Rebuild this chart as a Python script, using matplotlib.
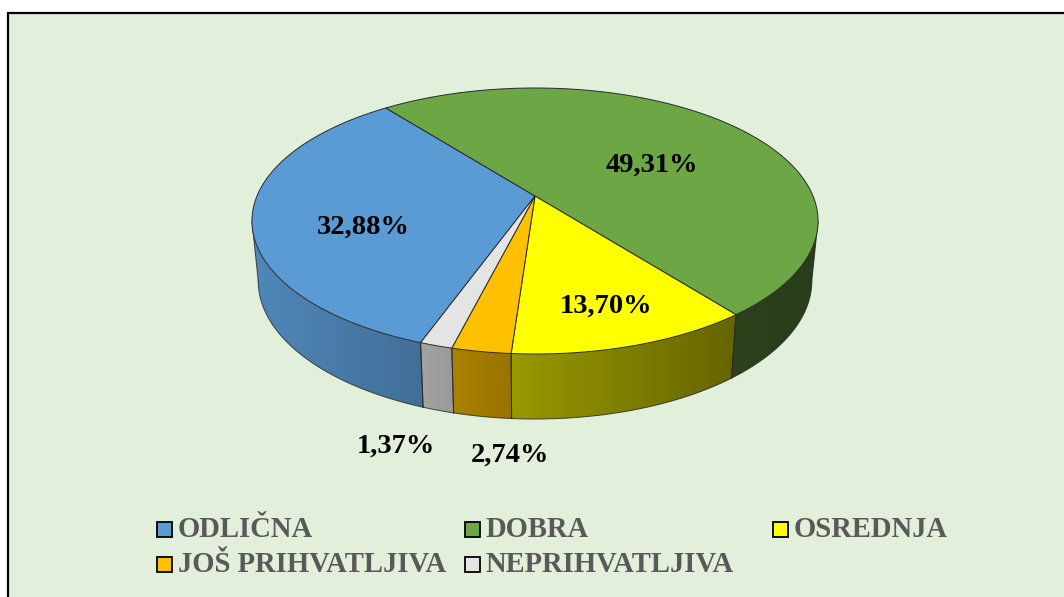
import numpy as np
import matplotlib
matplotlib.use('Agg')
import matplotlib.pyplot as plt
from matplotlib.patches import Polygon, Rectangle

# data
names = ['ODLIČNA', 'DOBRA', 'OSREDNJA', 'JOŠ PRIHVATLJIVA', 'NEPRIHVATLJIVA']
values = [32.88, 49.31, 13.70, 2.74, 1.37]
colors = ['#5B9BD5', '#6CA645', '#FFFF00', '#FFC000', '#E4E4E4']

# layout, in pixels of the 1064x597 picture
W, H = 1064, 597
cx, cy = 535.0, 196.0
a, b, k = 278.0, 128.3, 0.188
low_sx, low_sy, low_y = 0.978, 1.04, 254.7
start = 199.8
# excel's 3d projection doesn't keep the angles exactly, small correction per edge
nudge = [0.0, 3.8, 6.3, -1.0, -0.7, 0.0]
label_xy = [(363, 227), (652, 165), (606, 306), (510, 455), (396, 446)]
legend_x = [156, 464, 772]
legend_y = [529, 564]

plt.rcParams['font.family'] = ['Liberation Serif', 'DejaVu Serif']


def top_xy(phi):
    # phi = degrees clockwise from the back of the pie
    phi = np.radians(phi)
    x, y = np.sin(phi), -np.cos(phi)
    return a * x / (1 - k * y), b * y / (1 - k * y)


def low_xy(phi):
    x, y = top_xy(phi)
    return x * low_sx, y * low_sy


def shade(color, px):
    # side wall gets darker going left to right
    m = np.interp(px, [258, 424, 511, 732, 812], [0.87, 0.71, 0.60, 0.40, 0.37])
    return np.array(matplotlib.colors.to_rgb(color))[None, :] * m[:, None]


edges = start + np.cumsum([0] + values) * 3.6 + np.array(nudge)
wall_from = np.degrees(np.arccos(-k))
wall_to = 360 - wall_from

fig = plt.figure(figsize=(W / 100, H / 100), dpi=100, facecolor='white')
ax = fig.add_axes([0, 0, 1, 1])
ax.axis('off')

ax.add_patch(Rectangle((8, 13), W + 20, H + 20, facecolor='#E2EFDA', edgecolor='black', lw=1.6))

# side wall, front part only
for i in range(len(values)):
    for shift in (-360, 0, 360):
        p0 = max(edges[i] + shift, wall_from)
        p1 = min(edges[i + 1] + shift, wall_to)
        if p1 <= p0:
            continue
        ph = np.linspace(p0, p1, 120)
        tx, ty = top_xy(ph)
        lx, ly = low_xy(ph)
        tx, lx = tx + cx, lx + cx
        ty, ly = ty + cy, ly + low_y
        pts = list(zip(tx, ty)) + list(zip(lx[::-1], ly[::-1]))
        x0, x1 = min(tx.min(), lx.min()), max(tx.max(), lx.max())
        y0, y1 = min(ty.min(), ly.min()), max(ty.max(), ly.max())
        xs = np.linspace(x0, x1, 300)
        grad = shade(colors[i], xs)[None, :, :]
        im = ax.imshow(grad, extent=(x0, x1, y1, y0), aspect='auto', interpolation='bilinear', zorder=2)
        clip = Polygon(pts, closed=True, transform=ax.transData, facecolor='none', edgecolor='none')
        ax.add_patch(clip)
        im.set_clip_path(clip)
        ax.plot(lx, ly, color='#222222', lw=0.7, alpha=0.8, zorder=3)
        ax.plot([tx[0], lx[0]], [ty[0], ly[0]], color='#222222', lw=0.7, alpha=0.8, zorder=3)
        ax.plot([tx[-1], lx[-1]], [ty[-1], ly[-1]], color='#222222', lw=0.7, alpha=0.8, zorder=3)

# top of the pie
for i in range(len(values)):
    ph = np.linspace(edges[i], edges[i + 1] + (360 if edges[i + 1] < edges[i] else 0), 200)
    tx, ty = top_xy(ph)
    pts = [(cx, cy)] + list(zip(tx + cx, ty + cy))
    ax.add_patch(Polygon(pts, closed=True, facecolor=colors[i], edgecolor='#2A2A2A', lw=0.7, zorder=4))

# data labels
for v, (lx, ly) in zip(values, label_xy):
    ax.text(lx, ly, f'{v:.2f}%'.replace('.', ','), fontsize=20.5, fontweight='bold', color='black',
            ha='center', va='center', zorder=5)

# legend
for i, (name, col) in enumerate(zip(names, colors)):
    x = legend_x[i % 3]
    y = legend_y[i // 3]
    ax.add_patch(Rectangle((x + 1, y - 7.5), 15, 15, facecolor=col, edgecolor='black', lw=1.3, zorder=5))
    ax.text(x + 22, y + 8, name, fontsize=20.6, fontweight='bold', color='#595959', ha='left', va='baseline', zorder=5)

ax.set_xlim(0, W)
ax.set_ylim(H, 0)

fig.savefig('out.png', dpi=100)
